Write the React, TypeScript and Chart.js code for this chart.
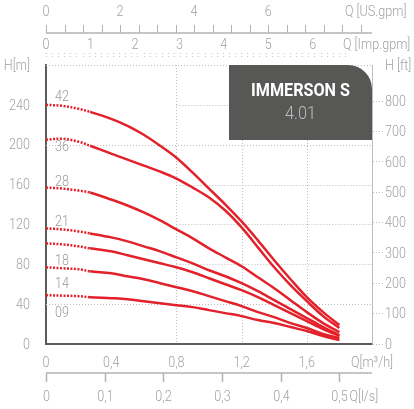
import React, { useEffect, useRef } from "react";
import { Chart, registerables } from "chart.js";

Chart.register(...registerables);

// ---------- data ----------
const flowM3h = [0, 0.1, 0.2, 0.27, 0.4, 0.5, 0.6, 0.7, 0.8, 0.9, 1.0, 1.1, 1.2, 1.3, 1.4, 1.5, 1.6, 1.7, 1.8];
const head42 = [240, 239, 236, 233, 226, 219, 210, 199, 187, 172, 156, 140, 123, 104, 84, 65, 47, 32, 19];
const head36 = [205, 206, 203, 199, 191, 185, 179, 173, 166, 157, 147, 134, 117, 97, 77, 59, 43, 28, 16];
const head28 = [157, 156, 154, 152, 145, 139, 132, 124, 115, 106, 96, 87, 78, 67, 56, 44, 32, 21, 12];
const head21 = [116, 115, 113, 111, 107, 103, 98, 93, 87, 81, 74, 68, 61, 53, 44, 35, 26, 17, 9];
const head18 = [101, 100, 98, 96, 93, 89, 85, 81, 77, 72, 66, 60, 54, 47, 39, 31, 23, 15, 8];
const head14 = [77, 76, 75, 73, 71, 68, 65, 61, 57, 53, 48, 43, 38, 32, 27, 21, 16, 10, 6];
const head09 = [49, 48.5, 48, 47, 46, 45, 43, 41, 39, 37, 34, 31, 28, 24, 21, 17, 13, 8, 4];
const curves = [head42, head36, head28, head21, head18, head14, head09];

const stageLabels = ["42", "36", "28", "21", "18", "14", "09"];
const stageLabelHeads = [248, 197, 162, 122, 83, 60, 31];
const stageLabelFlow = 0.055;

const m3hTicks = [0, 0.4, 0.8, 1.2, 1.6, 2.0];
const mTicks = [0, 40, 80, 120, 160, 200, 240, 280];
const ftTicks = [0, 100, 200, 300, 400, 500, 600, 700, 800];
const lsTicks = [0, 0.1, 0.2, 0.3, 0.4, 0.5];
const usGpmLabels = [0, 2, 4, 6];
const impGpmLabels = [0, 1, 2, 3, 4, 5, 6];
const usGpmMinorMax = 8.5;

const gridFull = [40, 200, 280];
const gridPartial = [80, 120, 160, 240];
const gridVertical = [0.8, 1.2, 1.6];

const titleText = "IMMERSON S";
const subtitleText = "4.01";

// unit conversions
const US_GPM = 0.227125; // m3/h
const IMP_GPM = 0.272766; // m3/h
const LS = 3.6; // m3/h per l/s
const FT = 3.28084;

const FONT = "Roboto, 'Liberation Sans', sans-serif";
const GRAY = "#a2a2a2";
const RED = "#e3212b";
const DOT = "#bdbdbd";
const SX = 0.84;

const fmt = (v: number) => String(Math.round(v * 10) / 10).replace(".", ",");

function txt(ctx: any, s: string, x: number, y: number, align: string, sx: number = SX) {
  ctx.save();
  ctx.translate(x, y);
  ctx.scale(sx, 1);
  ctx.textAlign = align;
  ctx.fillText(s, 0, 0);
  ctx.restore();
}

function txtW(ctx: any, s: string, x: number, y: number, width: number) {
  const w = ctx.measureText(s).width;
  txt(ctx, s, x, y, "center", width / w);
}

const decorPlugin = {
  id: "decor",
  beforeDatasetsDraw(chart: any) {
    const { ctx, chartArea, scales } = chart;
    const x = scales.x;
    const y = scales.y;
    ctx.save();
    ctx.strokeStyle = DOT;
    ctx.lineWidth = 1;
    ctx.setLineDash([1, 2]);
    gridFull.forEach((h) => {
      const py = Math.round(y.getPixelForValue(h)) + 0.5;
      ctx.beginPath();
      ctx.moveTo(chartArea.left, py);
      ctx.lineTo(chartArea.right, py);
      ctx.stroke();
    });
    gridPartial.forEach((h) => {
      const py = Math.round(y.getPixelForValue(h)) + 0.5;
      ctx.beginPath();
      ctx.moveTo(x.getPixelForValue(0.8), py);
      ctx.lineTo(chartArea.right, py);
      ctx.stroke();
    });
    gridVertical.forEach((q) => {
      const px = Math.round(x.getPixelForValue(q)) + 0.5;
      ctx.beginPath();
      ctx.moveTo(px, chartArea.top);
      ctx.lineTo(px, chartArea.bottom);
      ctx.stroke();
    });
    ctx.restore();
  },
  afterDatasetsDraw(chart: any) {
    const { ctx, chartArea, scales } = chart;
    const x = scales.x;
    const y = scales.y;
    ctx.save();
    // curve labels
    ctx.font = `300 15px ${FONT}`;
    ctx.fillStyle = "#9a9a9a";
    ctx.textBaseline = "middle";
    stageLabels.forEach((t, i) => {
      txt(ctx, t, x.getPixelForValue(stageLabelFlow), y.getPixelForValue(stageLabelHeads[i]), "left");
    });

    // title box
    const bw = 143, bh = 75, r = 24;
    const bx = chartArea.right - bw, by = chartArea.top;
    ctx.fillStyle = "#575755";
    ctx.beginPath();
    ctx.moveTo(bx, by);
    ctx.lineTo(bx + bw - r, by);
    ctx.arcTo(bx + bw, by, bx + bw, by + r, r);
    ctx.lineTo(bx + bw, by + bh);
    ctx.lineTo(bx, by + bh);
    ctx.closePath();
    ctx.fill();
    ctx.fillStyle = "#ffffff";
    ctx.font = `bold 18px ${FONT}`;
    txtW(ctx, titleText, bx + bw / 2, by + 26, 99);
    ctx.fillStyle = "#bdbdbd";
    ctx.font = `300 18px ${FONT}`;
    txtW(ctx, subtitleText, bx + bw / 2, by + 49, 31);
    ctx.restore();
  },
  afterDraw(chart: any) {
    const { ctx, chartArea, scales } = chart;
    const x = scales.x;
    const y = scales.y;
    const y2 = scales.y2;
    ctx.save();
    ctx.font = `300 15px ${FONT}`;
    ctx.fillStyle = GRAY;
    ctx.textBaseline = "middle";

    // main axes labels (from scale ticks)
    y.ticks.forEach((t: any, i: number) => {
      const s = t.value >= 280 ? "H[m]" : String(t.value);
      txt(ctx, s, chartArea.left - 16, y.getPixelForTick(i) + 1, "right");
    });
    y2.ticks.forEach((t: any, i: number) => {
      const s = t.value > 850 ? "H [ft]" : String(t.value);
      txt(ctx, s, chartArea.right + 13, y2.getPixelForTick(i) + 1, "left");
    });
    x.ticks.forEach((t: any, i: number) => {
      const s = t.value > 1.9 ? "Q[m³/h]" : fmt(t.value);
      txt(ctx, s, x.getPixelForTick(i), chartArea.bottom + 19, "center");
    });

    // US gpm axis (top)
    usGpmLabels.forEach((g) => txt(ctx, String(g), x.getPixelForValue(g * US_GPM), 12, "center"));
    txt(ctx, "Q [US.gpm]", chartArea.right - 27, 12, "left");
    ctx.strokeStyle = "#b3b3b3";
    ctx.lineWidth = 1.5;
    ctx.beginPath();
    ctx.moveTo(chartArea.left, 33);
    ctx.lineTo(chartArea.right, 33);
    ctx.stroke();
    ctx.lineWidth = 1;
    for (let g = 0; g <= usGpmMinorMax + 1e-9; g += 0.5) {
      const px = Math.round(x.getPixelForValue(g * US_GPM)) + 0.5;
      ctx.beginPath();
      ctx.moveTo(px, 33);
      ctx.lineTo(px, 25);
      ctx.stroke();
    }
    // Imp gpm axis
    impGpmLabels.forEach((g) => txt(ctx, String(g), x.getPixelForValue(g * IMP_GPM), 45, "center"));
    txt(ctx, "Q [Imp.gpm]", chartArea.right - 29, 45, "left");
    // dotted row
    ctx.fillStyle = "#c8c8c8";
    for (let px = chartArea.left; px <= 350; px += 6.1) {
      ctx.fillRect(Math.round(px), 53, 1, 1);
      ctx.fillRect(Math.round(px), 56, 1, 1);
    }

    // l/s axis (bottom)
    ctx.fillStyle = GRAY;
    ctx.strokeStyle = "#b3b3b3";
    ctx.lineWidth = 1.5;
    ctx.beginPath();
    ctx.moveTo(chartArea.left, 373);
    ctx.lineTo(chartArea.right, 373);
    ctx.stroke();
    lsTicks.forEach((l) => {
      const px = Math.round(x.getPixelForValue(l * LS)) + 0.5;
      ctx.beginPath();
      ctx.moveTo(px, 373);
      ctx.lineTo(px, 382);
      ctx.stroke();
      txt(ctx, fmt(l), px, 397, "center");
    });
    txt(ctx, "Q[l/s]", x.getPixelForValue(0.5 * LS) + 10, 397, "left");
    ctx.restore();
  },
};

export default function App() {
  const ref = useRef<HTMLCanvasElement | null>(null);
  useEffect(() => {
    if (!ref.current) return;
    const datasets = curves.map((hs, i) => ({
      label: stageLabels[i],
      data: flowM3h.map((q, j) => ({ x: q, y: hs[j] })),
      borderColor: RED,
      borderWidth: 2.5,
      pointRadius: 0,
      tension: 0.35,
      fill: false,
      segment: {
        borderDash: (c: any) => (c.p1.parsed.x <= 0.28 ? [2, 1.5] : undefined),
      },
    }));
    const chart = new Chart(ref.current, {
      type: "line",
      data: { datasets },
      plugins: [decorPlugin],
      options: {
        animation: false,
        responsive: false,
        layout: { padding: { top: 65, left: 0, right: 0, bottom: 0 } },
        plugins: { legend: { display: false }, tooltip: { enabled: false } },
        scales: {
          x: {
            type: "linear",
            position: "bottom",
            min: 0,
            max: 2,
            afterBuildTicks: (s: any) => {
              s.ticks = m3hTicks.map((v) => ({ value: v }));
            },
            afterFit: (s: any) => {
              s.height = 65;
            },
            grid: { display: false },
            border: { display: true, color: "#5c5c5c", width: 2 },
            ticks: { display: false },
          },
          y: {
            type: "linear",
            position: "left",
            min: 0,
            max: 280,
            afterBuildTicks: (s: any) => {
              s.ticks = mTicks.map((v) => ({ value: v }));
            },
            afterFit: (s: any) => {
              s.width = 46;
            },
            grid: { display: false },
            border: { display: true, color: "#5c5c5c", width: 2 },
            ticks: { display: false },
          },
          y2: {
            type: "linear",
            position: "right",
            min: 0,
            max: 280 * FT,
            afterBuildTicks: (s: any) => {
              s.ticks = ftTicks.map((v) => ({ value: v })).concat([{ value: 280 * FT }]);
            },
            afterFit: (s: any) => {
              s.width = 42;
            },
            grid: {
              display: true,
              drawOnChartArea: false,
              drawTicks: true,
              tickLength: 11,
              color: (c: any) => (c.tick && c.tick.value > 850 ? "rgba(0,0,0,0)" : DOT),
              tickBorderDash: [1, 2],
            },
            border: { display: true, color: DOT, width: 1, dash: [1, 2] },
            ticks: { display: false },
          },
        },
      },
    });
    return () => chart.destroy();
  }, []);
  return (
    <div style={{ position: "absolute", left: 0, top: 0, width: 414, height: 409, background: "#fff" }}>
      <canvas ref={ref} width={414} height={409} style={{ display: "block" }} />
    </div>
  );
}
